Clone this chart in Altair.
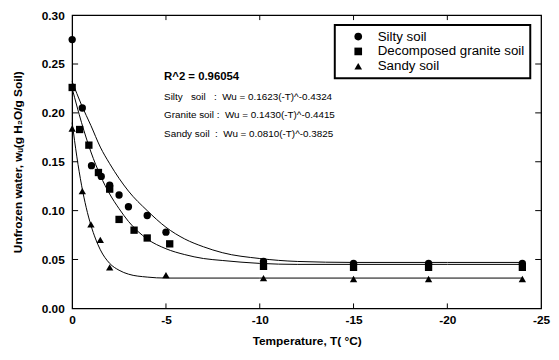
import altair as alt
import pandas as pd

FONT = "Liberation Sans"

soils = ["Silty soil", "Decomposed granite soil", "Sandy soil"]
shapes = ["circle", "square", "triangle-up"]

# measured points
silty_T = [0, -0.54, -1.03, -1.55, -2.0, -2.5, -3.0, -4.0, -5.0, -10.2, -15, -19, -24]
silty_w = [0.275, 0.205, 0.146, 0.135, 0.126, 0.116, 0.104, 0.095, 0.078, 0.048, 0.046, 0.046, 0.046]
granite_T = [0, -0.4, -0.89, -1.4, -2.0, -2.5, -3.3, -4.0, -5.2, -10.2, -15, -19, -24]
granite_w = [0.226, 0.183, 0.167, 0.139, 0.122, 0.091, 0.080, 0.072, 0.066, 0.043, 0.042, 0.042, 0.042]
sandy_T = [0, -0.54, -1.0, -1.5, -2.0, -5.0, -10.2, -15, -19, -24]
sandy_w = [0.184, 0.120, 0.086, 0.070, 0.042, 0.034, 0.031, 0.030, 0.030, 0.030]

# fitted curves
curve_T = [0, -0.5, -1, -1.5, -2, -2.5, -3, -4, -5, -6, -7, -8, -10, -12, -15, -20, -24]
silty_curve = [0.232, 0.208, 0.187, 0.165, 0.148, 0.133, 0.120, 0.100, 0.083, 0.071, 0.063,
               0.057, 0.051, 0.048, 0.047, 0.047, 0.047]
granite_curve = [0.225, 0.190, 0.160, 0.136, 0.117, 0.102, 0.089, 0.071, 0.061, 0.055, 0.051,
                 0.049, 0.046, 0.045, 0.045, 0.045, 0.045]
sandy_curve_T = [0, -0.25, -0.5, -0.75, -1, -1.25, -1.5, -2, -2.5, -3, -4, -5, -10, -24]
sandy_curve = [0.190, 0.155, 0.126, 0.103, 0.085, 0.071, 0.060, 0.046, 0.039, 0.035, 0.032,
               0.031, 0.031, 0.031]

ann_text = ["R^2 = 0.96054",
            "Silty\u00a0\u00a0\u00a0soil\u00a0\u00a0\u00a0:\u00a0\u00a0Wu = 0.1623(-T)^-0.4324",
            "Granite soil :\u00a0\u00a0Wu = 0.1430(-T)^-0.4415",
            "Sandy soil\u00a0\u00a0:\u00a0\u00a0Wu = 0.0810(-T)^-0.3825"]
ann_T = [-4.9, -4.9, -4.9, -4.9]
ann_w = [0.2368, 0.2167, 0.1977, 0.1786]

x_ticks = [0, -5, -10, -15, -20, -25]
y_ticks = [0.0, 0.05, 0.10, 0.15, 0.20, 0.25, 0.30]
x_inner_ticks = [-5, -10, -15, -20]
y_inner_ticks = [0.05, 0.10, 0.15, 0.20, 0.25]

pts = pd.DataFrame({
    "T": silty_T + granite_T + sandy_T,
    "w": silty_w + granite_w + sandy_w,
    "soil": [soils[0]] * len(silty_T) + [soils[1]] * len(granite_T) + [soils[2]] * len(sandy_T),
})
curves = pd.DataFrame({
    "T": curve_T + curve_T + sandy_curve_T,
    "w": silty_curve + granite_curve + sandy_curve,
    "soil": [soils[0]] * len(curve_T) + [soils[1]] * len(curve_T) + [soils[2]] * len(sandy_curve_T),
})
ann = pd.DataFrame({"text": ann_text, "T": ann_T, "w": ann_w})
xt = pd.DataFrame({"T": x_inner_ticks})
yt = pd.DataFrame({"w": y_inner_ticks})

W, H = 475, 297
xscale = alt.Scale(domain=[-25, 0], reverse=True, nice=False, zero=False)
yscale = alt.Scale(domain=[0, 0.30], nice=False)

xaxis = alt.Axis(values=x_ticks, ticks=False, tickSize=0, domain=False, grid=False,
                 labelExpr="datum.value + ''", labelFlush=False,
                 labelFont=FONT, labelFontWeight="bold", labelFontSize=12, labelColor="black",
                 labelPadding=6,
                 title="Temperature, T( °C)", titleFont=FONT, titleFontWeight="bold",
                 titleFontSize=12, titleColor="black", titlePadding=11)
yaxis = alt.Axis(values=y_ticks, format=".2f", ticks=False, tickSize=0, domain=False, grid=False,
                 labelFont=FONT, labelFontWeight="bold", labelFontSize=12, labelColor="black",
                 labelPadding=8,
                 title="Unfrozen water, wᵤ(g H₂O/g Soil)", titleFont=FONT,
                 titleFontWeight="bold", titleFontSize=12, titleColor="black", titlePadding=17)

x_enc = alt.X("T:Q", scale=xscale, axis=xaxis)
y_enc = alt.Y("w:Q", scale=yscale, axis=yaxis)

lines = alt.Chart(curves).mark_line(color="black", strokeWidth=1, interpolate="monotone").encode(
    x=x_enc, y=y_enc, detail="soil:N"
)

points = alt.Chart(pts).mark_point(filled=True, opacity=1, size=55, color="black").encode(
    x="T:Q", y="w:Q",
    shape=alt.Shape("soil:N", scale=alt.Scale(domain=soils, range=shapes),
                    legend=alt.Legend(title=None, orient="none", legendX=266, legendY=10,
                                      strokeColor="black", fillColor="white", padding=5,
                                      symbolOffset=12, symbolSize=60, symbolFillColor="black",
                                      symbolStrokeColor="black", labelFont=FONT,
                                      labelFontSize=13.5, labelColor="black", labelOffset=13,
                                      rowPadding=0)),
)

texts_norm = alt.Chart(ann).transform_filter(alt.datum.text != ann_text[0]).mark_text(
    align="left", baseline="middle", font=FONT, color="black", fontSize=10
).encode(x="T:Q", y="w:Q", text="text:N")
texts_bold = alt.Chart(ann).transform_filter(alt.datum.text == ann_text[0]).mark_text(
    align="left", baseline="middle", font=FONT, color="black", fontWeight="bold", fontSize=11.5
).encode(x="T:Q", y="w:Q", text="text:N")

tick_b = alt.Chart(xt).mark_rule(color="black", strokeWidth=1).encode(
    x="T:Q", y=alt.value(H), y2=alt.value(H - 5))
tick_t = alt.Chart(xt).mark_rule(color="black", strokeWidth=1).encode(
    x="T:Q", y=alt.value(0), y2=alt.value(5))
tick_l = alt.Chart(yt).mark_rule(color="black", strokeWidth=1).encode(
    y="w:Q", x=alt.value(0), x2=alt.value(6))
tick_r = alt.Chart(yt).mark_rule(color="black", strokeWidth=1).encode(
    y="w:Q", x=alt.value(W), x2=alt.value(W - 6))

chart = alt.layer(lines, points, texts_norm, texts_bold, tick_b, tick_t, tick_l, tick_r).properties(
    width=W, height=H,
    autosize=alt.AutoSizeParams(type="none"),
    padding={"left": 65, "top": 5, "right": 10, "bottom": 45},
    background="white",
).configure_view(stroke="black", strokeWidth=1.3).configure_legend(strokeWidth=2)

chart.save("out.html", embed_options={"renderer": "svg", "actions": False})
